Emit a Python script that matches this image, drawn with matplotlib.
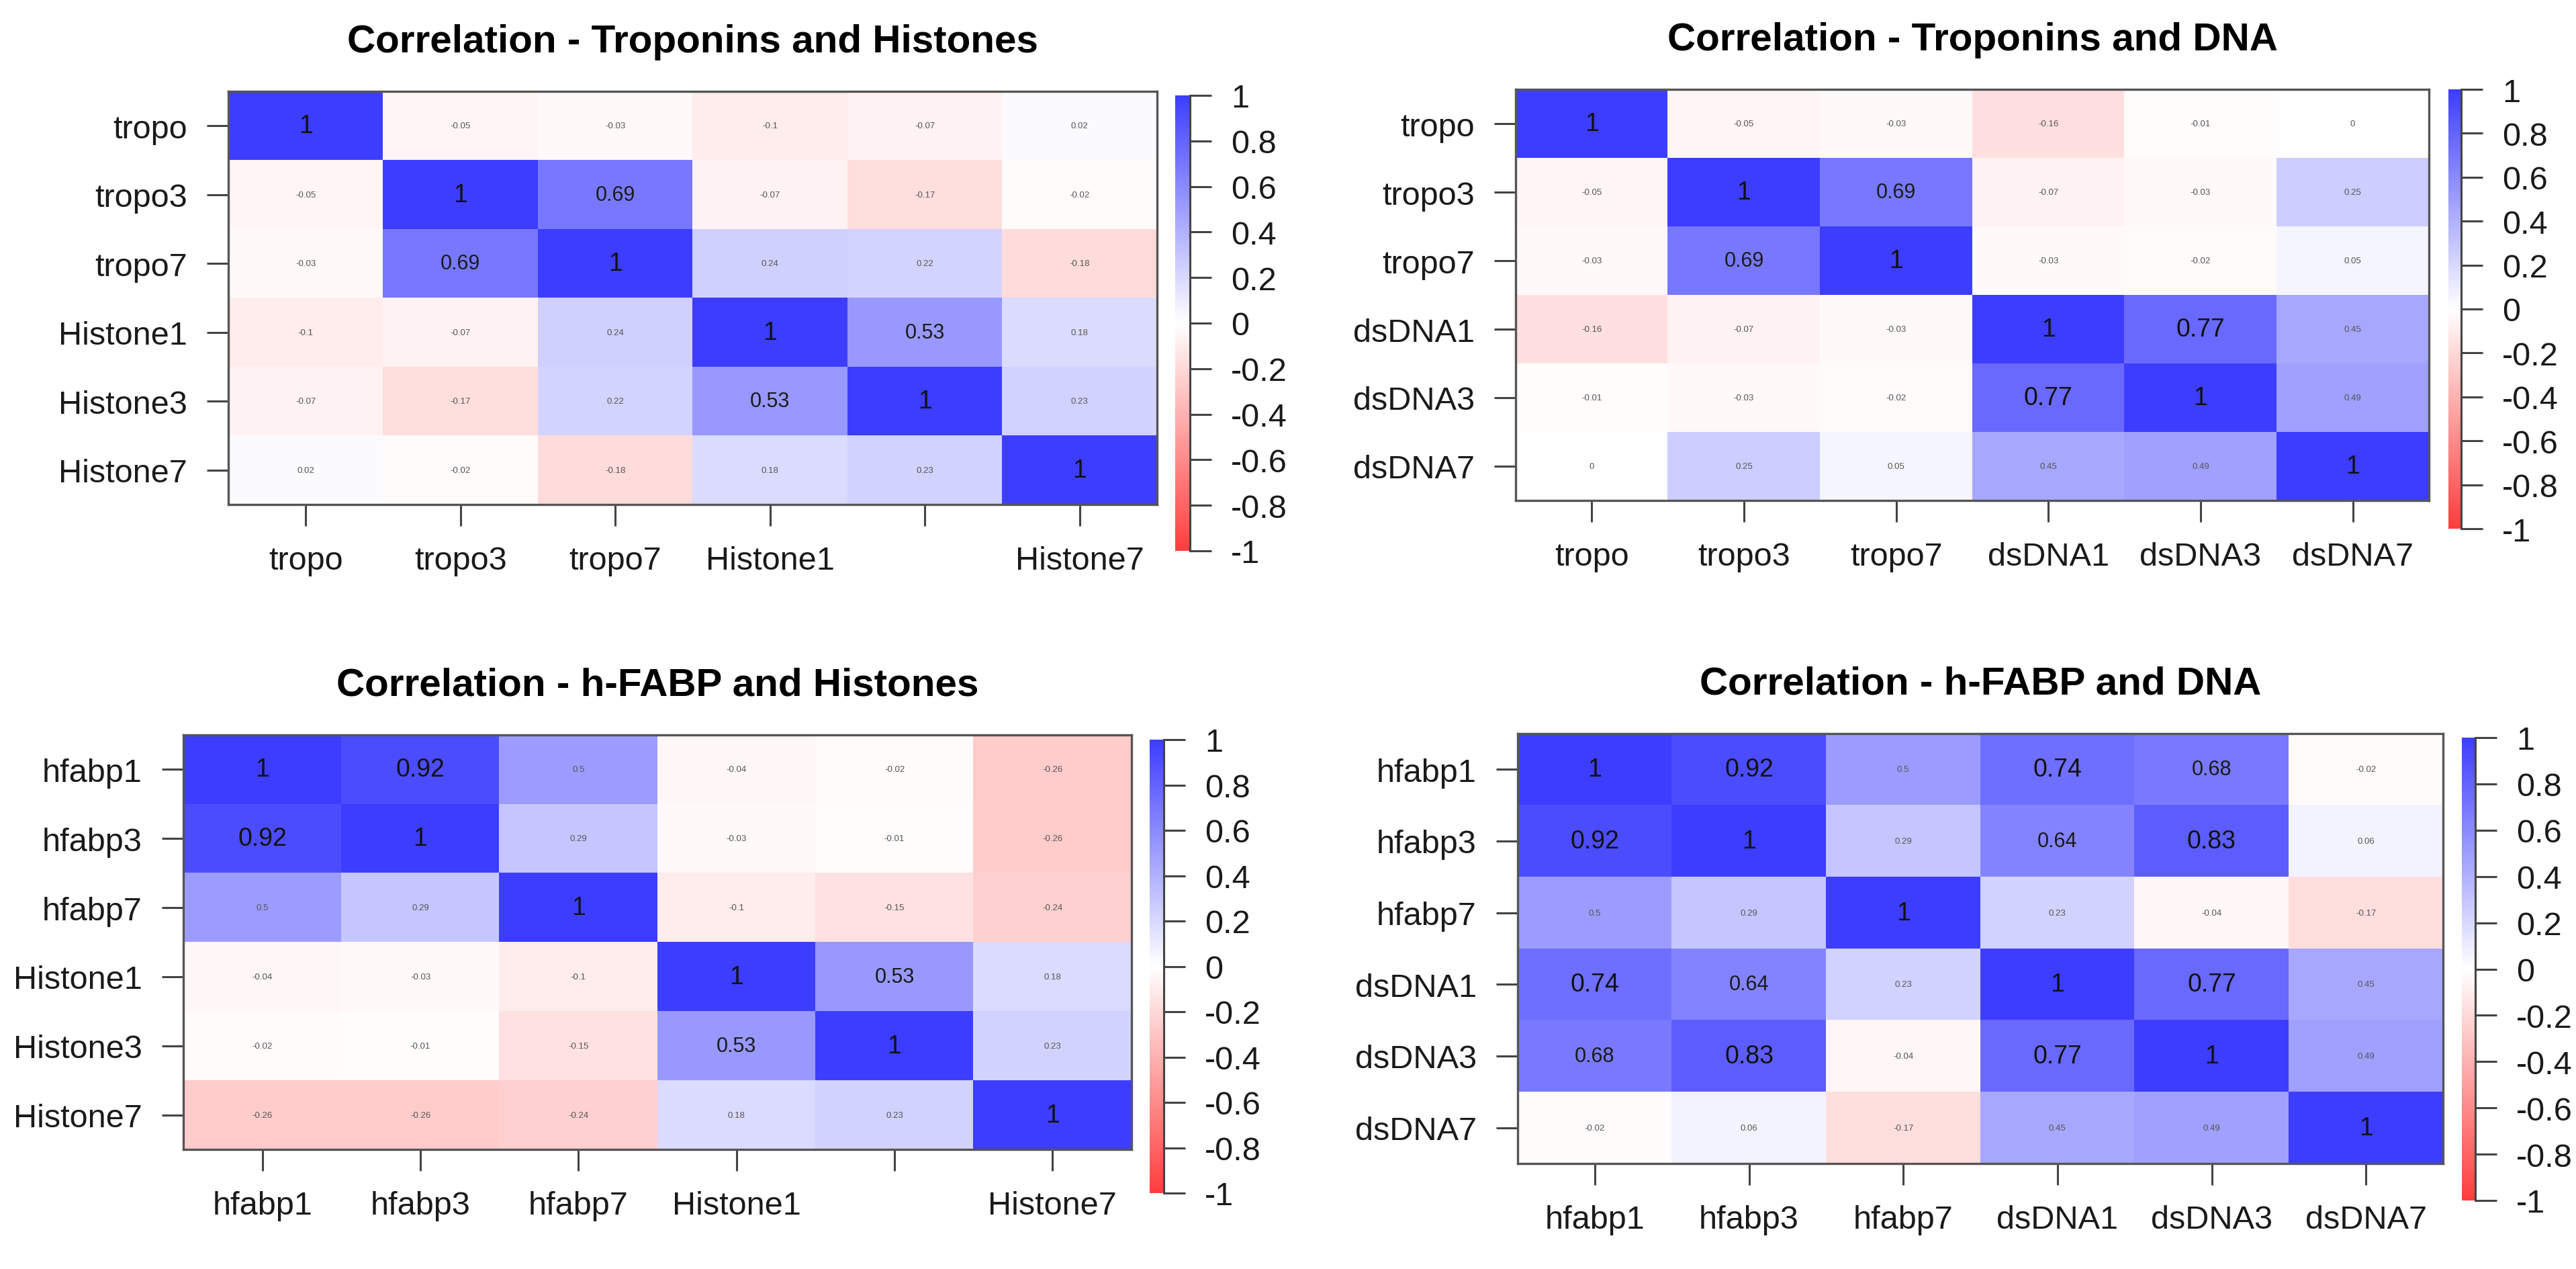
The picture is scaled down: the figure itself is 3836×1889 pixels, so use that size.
import numpy as np
import matplotlib
matplotlib.use("Agg")
import matplotlib.pyplot as plt
from matplotlib.colors import LinearSegmentedColormap

plt.rcParams['font.family'] = ['Liberation Sans', 'DejaVu Sans']

# ---- data ----
troponins = ["tropo", "tropo3", "tropo7"]
hfabp = ["hfabp1", "hfabp3", "hfabp7"]
histones = ["Histone1", "Histone3", "Histone7"]
dsdna = ["dsDNA1", "dsDNA3", "dsDNA7"]

corr_trop_hist = [[1, -0.05, -0.03, -0.1, -0.07, 0.02],
                  [-0.05, 1, 0.69, -0.07, -0.17, -0.02],
                  [-0.03, 0.69, 1, 0.24, 0.22, -0.18],
                  [-0.1, -0.07, 0.24, 1, 0.53, 0.18],
                  [-0.07, -0.17, 0.22, 0.53, 1, 0.23],
                  [0.02, -0.02, -0.18, 0.18, 0.23, 1]]

corr_trop_dna = [[1, -0.05, -0.03, -0.16, -0.01, 0],
                 [-0.05, 1, 0.69, -0.07, -0.03, 0.25],
                 [-0.03, 0.69, 1, -0.03, -0.02, 0.05],
                 [-0.16, -0.07, -0.03, 1, 0.77, 0.45],
                 [-0.01, -0.03, -0.02, 0.77, 1, 0.49],
                 [0, 0.25, 0.05, 0.45, 0.49, 1]]

corr_hfabp_hist = [[1, 0.92, 0.5, -0.04, -0.02, -0.26],
                   [0.92, 1, 0.29, -0.03, -0.01, -0.26],
                   [0.5, 0.29, 1, -0.1, -0.15, -0.24],
                   [-0.04, -0.03, -0.1, 1, 0.53, 0.18],
                   [-0.02, -0.01, -0.15, 0.53, 1, 0.23],
                   [-0.26, -0.26, -0.24, 0.18, 0.23, 1]]

corr_hfabp_dna = [[1, 0.92, 0.5, 0.74, 0.68, -0.02],
                  [0.92, 1, 0.29, 0.64, 0.83, 0.06],
                  [0.5, 0.29, 1, 0.23, -0.04, -0.17],
                  [0.74, 0.64, 0.23, 1, 0.77, 0.45],
                  [0.68, 0.83, -0.04, 0.77, 1, 0.49],
                  [-0.02, 0.06, -0.17, 0.45, 0.49, 1]]

cbar_ticks = [-1, -0.8, -0.6, -0.4, -0.2, 0, 0.2, 0.4, 0.6, 0.8, 1]

# x labels that R dropped because they overlapped
hidden_x = {"Histone3"}

W, H = 3836, 1890
fig = plt.figure(figsize=(W / 100, H / 100), dpi=100)

cmap = LinearSegmentedColormap.from_list(
    "rwb", [(1, 0.24, 0.24), (1, 1, 1), (0.24, 0.24, 1)])

def px_rect(l, t, r, b):
    return [l / W, 1 - b / H, (r - l) / W, (b - t) / H]

def fmt(v):
    return "%g" % (v + 0.0)

TICKC = "#444444"

def panel(mat, rows, cols, title, box, cbox):
    mat = np.array(mat, dtype=float)
    ax = fig.add_axes(px_rect(*box))
    im = ax.imshow(mat, cmap=cmap, vmin=-1, vmax=1, aspect='auto',
                   interpolation='nearest')
    n = len(rows)
    ax.set_xticks(range(n))
    ax.set_xticklabels(["" if c in hidden_x else c for c in cols])
    ax.set_yticks(range(n))
    ax.set_yticklabels(rows)
    ax.tick_params(length=23, width=2.2, color=TICKC, labelsize=35,
                   pad=21, labelcolor="#1a1a1a")
    for s in ax.spines.values():
        s.set_color("#555555")
        s.set_linewidth(2.4)
    for i in range(n):
        for j in range(n):
            v = mat[i, j]
            a = abs(v)
            if a >= 0.7:
                fs, col = 27, "#111111"
            elif a > 0.5:
                fs, col = 22, "#1a1a1a"
            else:
                fs, col = 9.5, "#555555"
            ax.text(j, i, fmt(v), ha='center', va='center', fontsize=fs,
                    color=col)
    l, t, r, b = box
    fig.text((l + r) / 2 / W, 1 - (t - 59) / H, title, ha='center',
             va='baseline', fontsize=42, fontweight='bold')

    cax = fig.add_axes(px_rect(*cbox))
    cb = fig.colorbar(im, cax=cax)
    cb.outline.set_visible(False)
    cb.set_ticks(cbar_ticks)
    cb.set_ticklabels([fmt(t_) for t_ in cbar_ticks])
    cax.tick_params(length=23, width=2.2, color=TICKC, labelsize=35,
                    pad=21, labelcolor="#1a1a1a")
    cax.axvline(1, color=TICKC, lw=2.2, clip_on=False)

panel(corr_trop_hist, troponins + histones, troponins + histones,
      "Correlation - Troponins and Histones",
      (340, 137, 1723, 752), (1750, 143, 1772, 821))
panel(corr_trop_dna, troponins + dsdna, troponins + dsdna,
      "Correlation - Troponins and DNA",
      (2257, 134, 3617, 746), (3646, 134, 3665, 788))
panel(corr_hfabp_hist, hfabp + histones, hfabp + histones,
      "Correlation - h-FABP and Histones",
      (273, 1095, 1685, 1712), (1712, 1102, 1733, 1777))
panel(corr_hfabp_dna, hfabp + dsdna, hfabp + dsdna,
      "Correlation - h-FABP and DNA",
      (2260, 1093, 3638, 1733), (3666, 1099, 3686, 1788))

fig.savefig("out.png", dpi=100, facecolor="white")
